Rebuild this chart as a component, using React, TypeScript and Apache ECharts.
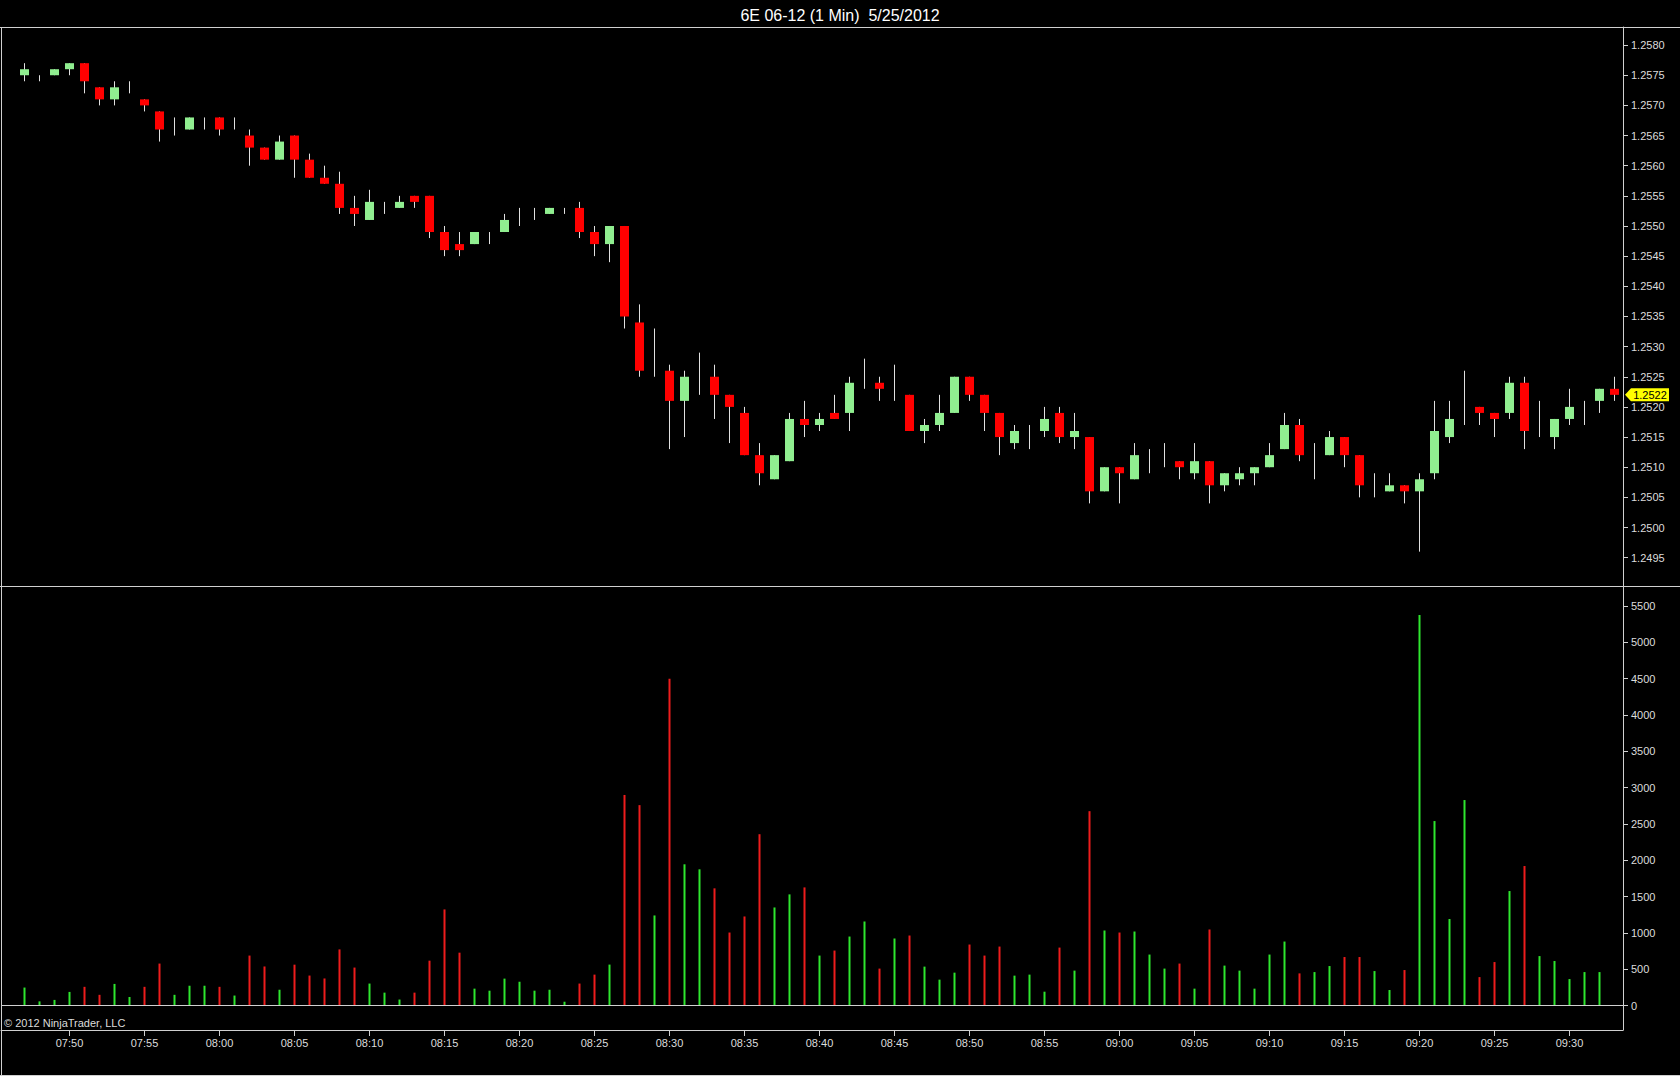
import React, { useEffect, useRef } from "react";
import * as echarts from "echarts";

const TITLE = "6E 06-12 (1 Min)  5/25/2012";
const COPYRIGHT = "© 2012 NinjaTrader, LLC";

const TIMES = [
  "07:47", "07:48", "07:49", "07:50", "07:51", "07:52", "07:53", "07:54", "07:55", "07:56",
  "07:57", "07:58", "07:59", "08:00", "08:01", "08:02", "08:03", "08:04", "08:05", "08:06",
  "08:07", "08:08", "08:09", "08:10", "08:11", "08:12", "08:13", "08:14", "08:15", "08:16",
  "08:17", "08:18", "08:19", "08:20", "08:21", "08:22", "08:23", "08:24", "08:25", "08:26",
  "08:27", "08:28", "08:29", "08:30", "08:31", "08:32", "08:33", "08:34", "08:35", "08:36",
  "08:37", "08:38", "08:39", "08:40", "08:41", "08:42", "08:43", "08:44", "08:45", "08:46",
  "08:47", "08:48", "08:49", "08:50", "08:51", "08:52", "08:53", "08:54", "08:55", "08:56",
  "08:57", "08:58", "08:59", "09:00", "09:01", "09:02", "09:03", "09:04", "09:05", "09:06",
  "09:07", "09:08", "09:09", "09:10", "09:11", "09:12", "09:13", "09:14", "09:15", "09:16",
  "09:17", "09:18", "09:19", "09:20", "09:21", "09:22", "09:23", "09:24", "09:25", "09:26",
  "09:27", "09:28", "09:29", "09:30", "09:31", "09:32", "09:33",
];

const OPEN = [
  1.2575, 1.2575, 1.2575, 1.2576, 1.2577, 1.2573, 1.2571, 1.2573, 1.2571, 1.2569,
  1.2567, 1.2566, 1.2567, 1.2568, 1.2567, 1.2565, 1.2563, 1.2561, 1.2565, 1.2561,
  1.2558, 1.2557, 1.2553, 1.2551, 1.2553, 1.2553, 1.2555, 1.2555, 1.2549, 1.2547,
  1.2547, 1.2548, 1.2549, 1.2552, 1.2552, 1.2552, 1.2553, 1.2553, 1.2549, 1.2547,
  1.2550, 1.2534, 1.2526, 1.2526, 1.2521, 1.2524, 1.2525, 1.2522, 1.2519, 1.2512,
  1.2508, 1.2511, 1.2518, 1.2517, 1.2519, 1.2519, 1.2524, 1.2524, 1.2523, 1.2522,
  1.2516, 1.2517, 1.2519, 1.2525, 1.2522, 1.2519, 1.2514, 1.2515, 1.2516, 1.2519,
  1.2515, 1.2515, 1.2506, 1.2510, 1.2508, 1.2511, 1.2512, 1.2511, 1.2509, 1.2511,
  1.2507, 1.2508, 1.2509, 1.2510, 1.2513, 1.2517, 1.2511, 1.2512, 1.2515, 1.2512,
  1.2507, 1.2506, 1.2507, 1.2506, 1.2509, 1.2515, 1.2518, 1.2520, 1.2519, 1.2519,
  1.2524, 1.2518, 1.2515, 1.2518, 1.2519, 1.2521, 1.2523,
];

const CLOSE = [
  1.2576, 1.2575, 1.2576, 1.2577, 1.2574, 1.2571, 1.2573, 1.2573, 1.2570, 1.2566,
  1.2567, 1.2568, 1.2567, 1.2566, 1.2567, 1.2563, 1.2561, 1.2564, 1.2561, 1.2558,
  1.2557, 1.2553, 1.2552, 1.2554, 1.2553, 1.2554, 1.2554, 1.2549, 1.2546, 1.2546,
  1.2549, 1.2548, 1.2551, 1.2552, 1.2552, 1.2553, 1.2553, 1.2549, 1.2547, 1.2550,
  1.2535, 1.2526, 1.2526, 1.2521, 1.2525, 1.2524, 1.2522, 1.2520, 1.2512, 1.2509,
  1.2512, 1.2518, 1.2517, 1.2518, 1.2518, 1.2524, 1.2524, 1.2523, 1.2523, 1.2516,
  1.2517, 1.2519, 1.2525, 1.2522, 1.2519, 1.2515, 1.2516, 1.2515, 1.2518, 1.2515,
  1.2516, 1.2506, 1.2510, 1.2509, 1.2512, 1.2511, 1.2512, 1.2510, 1.2511, 1.2507,
  1.2509, 1.2509, 1.2510, 1.2512, 1.2517, 1.2512, 1.2511, 1.2515, 1.2512, 1.2507,
  1.2507, 1.2507, 1.2506, 1.2508, 1.2516, 1.2518, 1.2518, 1.2519, 1.2518, 1.2524,
  1.2516, 1.2518, 1.2518, 1.2520, 1.2519, 1.2523, 1.2522,
];

const HIGH = [
  1.2577, 1.2575, 1.2576, 1.2577, 1.2577, 1.2573, 1.2574, 1.2574, 1.2571, 1.2569,
  1.2568, 1.2568, 1.2568, 1.2568, 1.2568, 1.2566, 1.2563, 1.2565, 1.2565, 1.2562,
  1.2560, 1.2559, 1.2555, 1.2556, 1.2554, 1.2555, 1.2555, 1.2555, 1.2550, 1.2549,
  1.2549, 1.2549, 1.2552, 1.2553, 1.2553, 1.2553, 1.2553, 1.2554, 1.2550, 1.2550,
  1.2550, 1.2537, 1.2533, 1.2527, 1.2526, 1.2529, 1.2527, 1.2522, 1.2520, 1.2514,
  1.2512, 1.2519, 1.2521, 1.2519, 1.2522, 1.2525, 1.2528, 1.2525, 1.2527, 1.2522,
  1.2518, 1.2522, 1.2525, 1.2525, 1.2522, 1.2519, 1.2517, 1.2517, 1.2520, 1.2520,
  1.2519, 1.2515, 1.2510, 1.2510, 1.2514, 1.2513, 1.2514, 1.2511, 1.2514, 1.2511,
  1.2509, 1.2510, 1.2510, 1.2514, 1.2519, 1.2518, 1.2514, 1.2516, 1.2515, 1.2512,
  1.2509, 1.2509, 1.2507, 1.2509, 1.2521, 1.2521, 1.2526, 1.2520, 1.2519, 1.2525,
  1.2525, 1.2521, 1.2518, 1.2523, 1.2521, 1.2523, 1.2525,
];

const LOW = [
  1.2574, 1.2574, 1.2575, 1.2575, 1.2572, 1.2570, 1.2570, 1.2572, 1.2569, 1.2564,
  1.2565, 1.2566, 1.2566, 1.2565, 1.2566, 1.2560, 1.2561, 1.2561, 1.2558, 1.2558,
  1.2557, 1.2552, 1.2550, 1.2551, 1.2552, 1.2553, 1.2553, 1.2548, 1.2545, 1.2545,
  1.2547, 1.2547, 1.2549, 1.2550, 1.2551, 1.2552, 1.2552, 1.2548, 1.2545, 1.2544,
  1.2533, 1.2525, 1.2525, 1.2513, 1.2515, 1.2522, 1.2518, 1.2514, 1.2512, 1.2507,
  1.2508, 1.2511, 1.2515, 1.2516, 1.2518, 1.2516, 1.2523, 1.2521, 1.2521, 1.2516,
  1.2514, 1.2516, 1.2519, 1.2521, 1.2516, 1.2512, 1.2513, 1.2513, 1.2515, 1.2514,
  1.2513, 1.2504, 1.2506, 1.2504, 1.2508, 1.2509, 1.2510, 1.2508, 1.2508, 1.2504,
  1.2506, 1.2507, 1.2507, 1.2510, 1.2513, 1.2511, 1.2508, 1.2512, 1.2510, 1.2505,
  1.2505, 1.2506, 1.2504, 1.2496, 1.2508, 1.2514, 1.2517, 1.2517, 1.2515, 1.2518,
  1.2513, 1.2515, 1.2513, 1.2517, 1.2517, 1.2519, 1.2521,
];

const VOLUME: (number | null)[] = [
  250, 60, 80, 190, 260, 150, 300, 120, 260, 580,
  150, 275, 275, 260, 140, 690, 540, 220, 565, 415,
  375, 775, 525, 305, 180, 85, 180, 620, 1325, 730,
  235, 207, 373, 330, 207, 220, 55, 305, 428, 566,
  2900, 2760, 1242, 4500, 1946, 1877, 1615, 1007, 1228, 2360,
  1352, 1532, 1628, 690, 759, 952, 1159, 511, 925, 966,
  538, 359, 455, 842, 690, 814, 414, 428, 193, 800,
  483, 2677, 1035, 1007, 1021, 704, 511, 580, 235, 1049,
  552, 483, 235, 704, 883, 445, 463, 546, 670, 670,
  477, 216, 491, 5376, 2541, 1193, 2830, 394, 601, 1578,
  1922, 683, 615, 367, 463, 463, null,
];

const PRICE_TICKS = [
  1.2495, 1.25, 1.2505, 1.251, 1.2515, 1.252, 1.2525, 1.253, 1.2535,
  1.254, 1.2545, 1.255, 1.2555, 1.256, 1.2565, 1.257, 1.2575, 1.258,
];
const VOLUME_TICKS = [0, 500, 1000, 1500, 2000, 2500, 3000, 3500, 4000, 4500, 5000, 5500];

const FONT = "'Liberation Sans', Arial, sans-serif";
const TEXT = "#dcdcdc";
const FRAME = "#d0d0d0";
const UP = "#90ee90";
const DOWN = "#ff0000";
const WICK = "#e0e0e0";
const VOL_UP = "#2ee62e";
const VOL_DOWN = "#ee1c1c";

const X_MIN = -1.566667;
const X_MAX = 106.566667;

export default function App() {
  const ref = useRef<HTMLDivElement>(null);

  useEffect(() => {
    document.body.style.margin = "0";
    document.body.style.background = "#000";
    const chart = echarts.init(ref.current!, null, { renderer: "svg" });

    const last = TIMES.length - 1;
    const timeTicks = TIMES.map((t, i) => (Number(t.slice(3)) % 5 === 0 ? i : -1)).filter((i) => i >= 0);

    const candleData = TIMES.map((_, i) => [i, OPEN[i], CLOSE[i], LOW[i], HIGH[i]]);
    const volumeData = VOLUME.map((v, i) =>
      v == null
        ? null
        : { value: [i, v], itemStyle: { color: CLOSE[i] >= OPEN[i] ? VOL_UP : VOL_DOWN } }
    ).filter((d) => d !== null);

    const yAxisCommon = {
      type: "value",
      position: "right",
      axisLine: { show: true, onZero: false, lineStyle: { color: FRAME, width: 1 } },
      axisTick: { show: true, length: 5, lineStyle: { color: FRAME } },
      splitLine: { show: false },
    };

    const option: any = {
      animation: false,
      backgroundColor: "#000",
      title: {
        text: TITLE,
        left: "center",
        top: 2,
        textStyle: { color: "#ffffff", fontSize: 16, fontWeight: "normal", fontFamily: FONT },
      },
      grid: [
        { left: 1, top: 27, width: 1622, height: 559 },
        { left: 1, top: 586, width: 1622, height: 444 },
      ],
      xAxis: [
        { type: "value", gridIndex: 0, min: X_MIN, max: X_MAX, show: false },
        {
          type: "value",
          gridIndex: 1,
          min: X_MIN,
          max: X_MAX,
          axisLine: { show: true, onZero: false, lineStyle: { color: FRAME, width: 1 } },
          axisTick: { show: true, length: 6, lineStyle: { color: FRAME }, customValues: timeTicks },
          axisLabel: {
            customValues: timeTicks,
            formatter: (v: number) => TIMES[Math.round(v)] ?? "",
            color: TEXT,
            fontSize: 11,
            fontFamily: FONT,
            margin: 7,
          },
          splitLine: { show: false },
        },
      ],
      yAxis: [
        {
          ...yAxisCommon,
          gridIndex: 0,
          min: 1.24903,
          max: 1.2583,
          axisTick: { ...yAxisCommon.axisTick, customValues: PRICE_TICKS },
          axisLabel: {
            customValues: PRICE_TICKS,
            formatter: (v: number) => v.toFixed(4),
            color: TEXT,
            fontSize: 11,
            fontFamily: FONT,
            margin: 8,
          },
        },
        {
          ...yAxisCommon,
          gridIndex: 1,
          min: -334,
          max: 5775,
          axisTick: { ...yAxisCommon.axisTick, customValues: VOLUME_TICKS },
          axisLabel: {
            customValues: VOLUME_TICKS,
            formatter: (v: number) => String(v),
            color: TEXT,
            fontSize: 11,
            fontFamily: FONT,
            margin: 8,
          },
        },
      ],
      series: [
        {
          type: "custom",
          name: "Price",
          xAxisIndex: 0,
          yAxisIndex: 0,
          encode: { x: 0, y: [1, 2, 3, 4] },
          data: candleData,
          silent: true,
          renderItem: (_params: any, api: any) => {
            const i = api.value(0);
            const o = api.value(1);
            const c = api.value(2);
            const l = api.value(3);
            const h = api.value(4);
            const po = api.coord([i, o]);
            const yc = api.coord([i, c])[1];
            const yl = api.coord([i, l])[1];
            const yh = api.coord([i, h])[1];
            const top = Math.min(po[1], yc);
            const bot = Math.max(po[1], yc);
            const up = c >= o;
            return {
              type: "group",
              children: [
                {
                  type: "line",
                  shape: { x1: po[0], y1: yh, x2: po[0], y2: yl },
                  style: { stroke: WICK, lineWidth: 1 },
                },
                {
                  type: "rect",
                  shape: { x: po[0] - 4.5, y: top, width: 9, height: bot - top },
                  style: { fill: up ? UP : DOWN },
                },
              ],
            };
          },
        },
        {
          type: "line",
          name: "Last",
          xAxisIndex: 0,
          yAxisIndex: 0,
          data: CLOSE.map((c, i) => [i, c]),
          showSymbol: false,
          symbol: "none",
          silent: true,
          clip: false,
          lineStyle: { opacity: 0, width: 0 },
          markPoint: {
            silent: true,
            symbol: "path://M0,6.5L6,0L44,0L44,13L6,13Z",
            symbolSize: [44, 13],
            symbolKeepAspect: false,
            symbolOffset: [32.5, 0],
            itemStyle: { color: "#ffff00" },
            label: {
              show: true,
              position: "inside",
              offset: [3, 0],
              color: "#000",
              fontSize: 11,
              fontFamily: FONT,
              formatter: (p: any) => Number(p.value).toFixed(4),
            },
            data: [{ coord: [last, CLOSE[last]], value: CLOSE[last] }],
          },
        },
        {
          type: "bar",
          name: "Volume",
          xAxisIndex: 1,
          yAxisIndex: 1,
          barWidth: 2,
          data: volumeData,
          silent: true,
          markLine: {
            silent: true,
            symbol: ["none", "none"],
            label: { show: false },
            lineStyle: { color: FRAME, width: 1, type: "solid" },
            data: [{ yAxis: 0 }],
          },
        },
      ],
      graphic: [
        { type: "line", silent: true, shape: { x1: 0, y1: 27.5, x2: 1680, y2: 27.5 }, style: { stroke: FRAME, lineWidth: 1 } },
        { type: "line", silent: true, shape: { x1: 0, y1: 586.5, x2: 1680, y2: 586.5 }, style: { stroke: FRAME, lineWidth: 1 } },
        { type: "line", silent: true, shape: { x1: 1.5, y1: 27, x2: 1.5, y2: 1076 }, style: { stroke: FRAME, lineWidth: 1 } },
        { type: "line", silent: true, shape: { x1: 0, y1: 1075.5, x2: 1680, y2: 1075.5 }, style: { stroke: FRAME, lineWidth: 1 } },
        {
          type: "text",
          silent: true,
          left: 4,
          top: 1017,
          style: { text: COPYRIGHT, fill: TEXT, font: `11px ${FONT}` },
        },
      ],
    };

    chart.setOption(option);
    return () => chart.dispose();
  }, []);

  return (
    <div
      ref={ref}
      style={{ position: "fixed", left: 0, top: 0, width: 1680, height: 1076, background: "#000" }}
    />
  );
}
